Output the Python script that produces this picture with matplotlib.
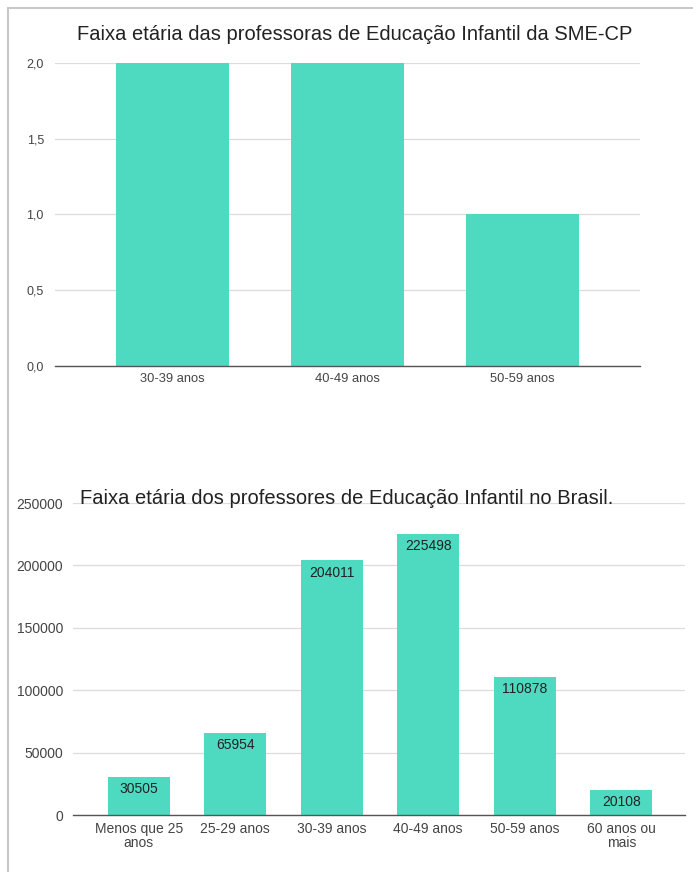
import matplotlib
matplotlib.use("Agg")
import matplotlib.pyplot as plt
from matplotlib.patches import Rectangle
from matplotlib.ticker import FuncFormatter

plt.rcParams['font.family'] = ['Liberation Sans', 'DejaVu Sans']

# Chart 1 data
title1 = "Faixa etária das professoras de Educação Infantil da SME-CP"
cats1 = ["30-39 anos", "40-49 anos", "50-59 anos"]
vals1 = [2, 2, 1]
yticks1 = [0.0, 0.5, 1.0, 1.5, 2.0]

# Chart 2 data
title2 = "Faixa etária dos professores de Educação Infantil no Brasil."
cats2 = ["Menos que 25\nanos", "25-29 anos", "30-39 anos", "40-49 anos", "50-59 anos", "60 anos ou\nmais"]
vals2 = [30505, 65954, 204011, 225498, 110878, 20108]
yticks2 = [0, 50000, 100000, 150000, 200000, 250000]

BAR = "#4ED9C1"
W, H = 693, 872
fig = plt.figure(figsize=(W / 100, H / 100), dpi=100)
fig.patch.set_facecolor("white")

# outer frame
fig.add_artist(Rectangle((8 / W, -0.1), 1.2, (H - 8) / H + 0.1, transform=fig.transFigure,
                         fill=False, edgecolor="#c8c8c8", linewidth=1.5))

def style(ax, ylim, yticks, fmt, pad, ysize, xsize):
    ax.set_ylim(*ylim)
    ax.set_yticks(yticks)
    ax.yaxis.set_major_formatter(FuncFormatter(fmt))
    ax.grid(axis="y", color="#dcdcdc", linewidth=0.9)
    ax.set_axisbelow(True)
    for s in ["top", "right", "left"]:
        ax.spines[s].set_visible(False)
    ax.spines["bottom"].set_color("#555555")
    ax.spines["bottom"].set_linewidth(1.0)
    ax.tick_params(axis="both", length=0, colors="#444444")
    ax.tick_params(axis="y", pad=pad, labelsize=ysize)
    ax.tick_params(axis="x", pad=5, labelsize=xsize)
    ax.set_facecolor("none")

# Chart 1
ax1 = fig.add_axes([55 / W, (H - 366) / H, 585 / W, 303 / H])
x1 = list(range(len(cats1)))
ax1.bar(x1, vals1, width=0.645, color=BAR, zorder=2)
ax1.set_xticks(x1)
ax1.set_xticklabels(cats1)
ax1.set_xlim(-0.67, len(cats1) - 1 + 0.67)
style(ax1, (0, 2.0), yticks1, lambda v, p: f"{v:.1f}".replace(".", ","), 8, 9, 9.3)
fig.text(355 / W, (H - 35) / H, title1, ha="center", va="center", fontsize=14.5, color="#222222")

# Chart 2
ax2 = fig.add_axes([73 / W, (H - 815) / H, 612 / W, 312 / H])
x2 = list(range(len(cats2)))
ax2.bar(x2, vals2, width=0.64, color=BAR, zorder=2)
ax2.set_xticks(x2)
ax2.set_xticklabels(cats2, linespacing=1.05)
ax2.set_xlim(-0.68, len(cats2) - 1 + 0.66)
style(ax2, (0, 250000), yticks2, lambda v, p: f"{int(v)}", 7, 10, 10)
for xi, v in zip(x2, vals2):
    ax2.annotate(f"{v}", (xi, v), xytext=(0, -9), textcoords="offset points",
                 ha="center", va="center", fontsize=10, color="#222222")
fig.text(347 / W, (H - 498) / H, title2, ha="center", va="center", fontsize=14.5, color="#222222")

fig.savefig("out.png", dpi=100)
